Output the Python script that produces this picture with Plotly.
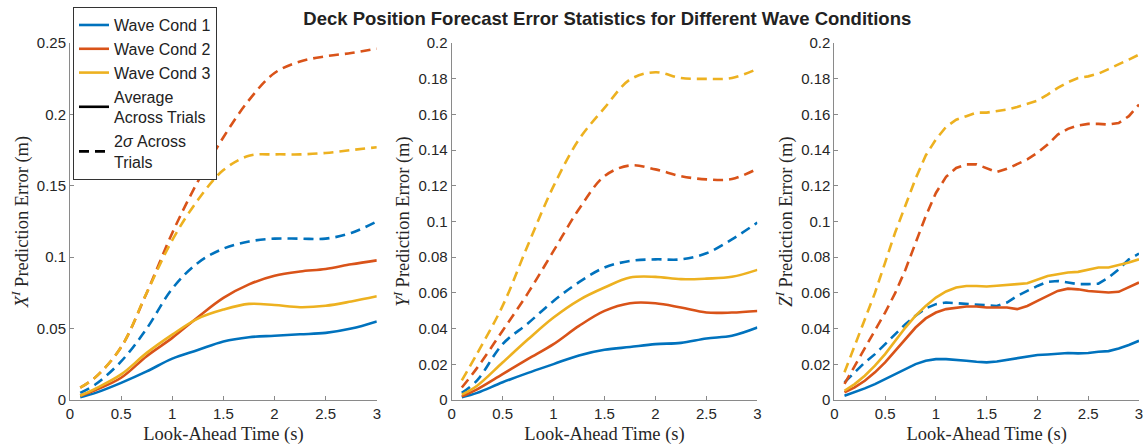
import plotly.graph_objects as go
from plotly.subplots import make_subplots

# ---------------- data ----------------
t_coarse = [0.1, 0.25, 0.5, 0.75, 1.0, 1.25, 1.5, 1.75, 2.0, 2.25, 2.5, 2.75, 3.0]
t_fine = [0.1, 0.2, 0.3, 0.4, 0.5, 0.6, 0.7, 0.8, 0.9, 1.0,
          1.1, 1.2, 1.3, 1.4, 1.5, 1.6, 1.7, 1.8, 1.9, 2.0,
          2.1, 2.2, 2.3, 2.4, 2.5, 2.6, 2.7, 2.8, 2.9, 3.0]

# X^I panel (coarse grid)
x_avg_w1 = [0.002, 0.005, 0.012, 0.020, 0.029, 0.035, 0.041, 0.044, 0.045, 0.046, 0.047, 0.050, 0.055]
x_avg_w2 = [0.003, 0.007, 0.0156, 0.0307, 0.0435, 0.058, 0.0715, 0.081, 0.087, 0.090, 0.0917, 0.095, 0.0978]
x_avg_w3 = [0.003, 0.008, 0.0179, 0.033, 0.0458, 0.057, 0.0633, 0.0673, 0.0665, 0.065, 0.066, 0.069, 0.0726]
x_sig_w1 = [0.005, 0.011, 0.027, 0.050, 0.078, 0.096, 0.106, 0.111, 0.113, 0.113, 0.113, 0.117, 0.125]
x_sig_w2 = [0.0086, 0.016, 0.037, 0.075, 0.117, 0.153, 0.184, 0.210, 0.229, 0.237, 0.2407, 0.243, 0.246]
x_sig_w3 = [0.0086, 0.016, 0.037, 0.075, 0.112, 0.140, 0.161, 0.171, 0.172, 0.172, 0.173, 0.175, 0.177]

# Y^I panel (coarse grid)
y_avg_w1 = [0.0015, 0.004, 0.0099, 0.0152, 0.0201, 0.025, 0.0281, 0.0297, 0.0313, 0.032, 0.0345, 0.036, 0.0406]
y_avg_w2 = [0.002, 0.006, 0.0145, 0.023, 0.0313, 0.0415, 0.0499, 0.0542, 0.0542, 0.0518, 0.049, 0.049, 0.0499]
y_avg_w3 = [0.003, 0.008, 0.021, 0.034, 0.0462, 0.056, 0.063, 0.0686, 0.069, 0.0677, 0.068, 0.069, 0.0729]
y_sig_w1 = [0.004, 0.011, 0.0313, 0.043, 0.0555, 0.066, 0.0742, 0.0779, 0.0788, 0.0788, 0.0822, 0.090, 0.0994]
y_sig_w2 = [0.007, 0.018, 0.0388, 0.060, 0.0835, 0.107, 0.1254, 0.1314, 0.1292, 0.1254, 0.1236, 0.1238, 0.1296]
y_sig_w3 = [0.011, 0.026, 0.0527, 0.087, 0.1198, 0.146, 0.1636, 0.1795, 0.1836, 0.1804, 0.1799, 0.1804, 0.1855]

# Z^I panel (fine grid)
z_avg_w1 = [0.0024, 0.0043, 0.0065, 0.0089, 0.0117, 0.0145, 0.0173, 0.0201, 0.022, 0.0229,
            0.0229, 0.0226, 0.022, 0.0214, 0.0211, 0.0216, 0.0226, 0.0235, 0.0244, 0.0252,
            0.0255, 0.0259, 0.0263, 0.0261, 0.0263, 0.027, 0.0274, 0.0289, 0.0308, 0.0332]
z_avg_w2 = [0.0043, 0.0071, 0.0108, 0.0155, 0.0211, 0.0276, 0.0341, 0.0406, 0.0457, 0.049,
            0.0509, 0.0518, 0.0524, 0.0524, 0.0518, 0.0518, 0.0518, 0.0509, 0.0527, 0.0555,
            0.0583, 0.0611, 0.0624, 0.062, 0.0611, 0.0606, 0.0602, 0.0606, 0.063, 0.0658]
z_avg_w3 = [0.0052, 0.0089, 0.0136, 0.0192, 0.0257, 0.0332, 0.0406, 0.0472, 0.0527, 0.0574,
            0.0608, 0.063, 0.0639, 0.0639, 0.0636, 0.064, 0.0643, 0.0649, 0.0654, 0.0673,
            0.0695, 0.0704, 0.0714, 0.0718, 0.0729, 0.0742, 0.0742, 0.0755, 0.077, 0.0788]
z_sig_w1 = [0.0099, 0.0155, 0.021, 0.0257, 0.0313, 0.0369, 0.0425, 0.0472, 0.0513, 0.0537,
            0.0546, 0.0542, 0.0539, 0.0535, 0.0531, 0.0527, 0.0546, 0.0583, 0.0611, 0.0639,
            0.0662, 0.0667, 0.0658, 0.0649, 0.0649, 0.0652, 0.0686, 0.0732, 0.0788, 0.082]
z_sig_w2 = [0.009, 0.019, 0.0285, 0.039, 0.049, 0.060, 0.073, 0.088, 0.103, 0.116,
            0.125, 0.130, 0.132, 0.132, 0.130, 0.1277, 0.1295, 0.132, 0.1348, 0.1385,
            0.1431, 0.1487, 0.1519, 0.1538, 0.1547, 0.1547, 0.1543, 0.1552, 0.159, 0.1655]
z_sig_w3 = [0.0155, 0.030, 0.045, 0.060, 0.077, 0.094, 0.109, 0.124, 0.137, 0.146,
            0.153, 0.157, 0.159, 0.161, 0.161, 0.1618, 0.1627, 0.1642, 0.166, 0.1677,
            0.1711, 0.1748, 0.178, 0.1804, 0.1813, 0.1828, 0.1854, 0.1879, 0.1907, 0.1935]

series_names = ["Wave Cond 1", "Wave Cond 2", "Wave Cond 3"]
colors = ["#0072BD", "#D95319", "#EDB120"]
y_titles = ["<i>X</i><sup><i>I</i></sup> Prediction Error (m)",
            "<i>Y</i><sup><i>I</i></sup> Prediction Error (m)",
            "<i>Z</i><sup><i>I</i></sup> Prediction Error (m)"]
x_title = "Look-Ahead Time (s)"
title = "<b>Deck Position Forecast Error Statistics for Different Wave Conditions</b>"

panels = [
    (t_coarse, [x_avg_w1, x_avg_w2, x_avg_w3], [x_sig_w1, x_sig_w2, x_sig_w3], "spline"),
    (t_coarse, [y_avg_w1, y_avg_w2, y_avg_w3], [y_sig_w1, y_sig_w2, y_sig_w3], "spline"),
    (t_fine, [z_avg_w1, z_avg_w2, z_avg_w3], [z_sig_w1, z_sig_w2, z_sig_w3], "linear"),
]
y_ranges = [[0, 0.25], [0, 0.2], [0, 0.2]]
y_dticks = [0.05, 0.02, 0.02]

# ---------------- figure ----------------
fig = make_subplots(rows=1, cols=3)
DASH = "10px,6px"
LW = 2.6

for p, (tt, avgs, sigs, shape) in enumerate(panels):
    col = p + 1
    for i in range(3):
        fig.add_trace(go.Scatter(x=tt, y=sigs[i], mode="lines", line_shape=shape,
                                 line=dict(color=colors[i], width=LW, dash=DASH),
                                 showlegend=False, hoverinfo="skip"), row=1, col=col)
    for i in range(3):
        fig.add_trace(go.Scatter(x=tt, y=avgs[i], mode="lines", line_shape=shape,
                                 line=dict(color=colors[i], width=LW),
                                 name=series_names[i], showlegend=(p == 0),
                                 hoverinfo="skip"), row=1, col=col)

# legend-only entries for line styles
fig.add_trace(go.Scatter(x=[None], y=[None], mode="lines",
                         line=dict(color="black", width=LW),
                         name="Average<br>Across Trials"), row=1, col=1)
fig.add_trace(go.Scatter(x=[None], y=[None], mode="lines",
                         line=dict(color="black", width=LW, dash=DASH),
                         name="2<i>σ</i> Across<br>Trials"), row=1, col=1)

domains = [[0.0, 0.287], [0.357, 0.643], [0.715, 1.0]]
axis_color = "#8a8a8a"
tick_font = dict(family="Liberation Sans, Arial, sans-serif", size=15, color="#262626")
title_font = dict(family="Liberation Serif, Times New Roman, serif", size=18.5, color="#262626")

for p in range(3):
    xa = "xaxis" if p == 0 else f"xaxis{p+1}"
    ya = "yaxis" if p == 0 else f"yaxis{p+1}"
    fig.layout[xa].update(domain=domains[p], range=[0, 3], dtick=0.5, tick0=0,
                          showline=True, linecolor=axis_color, linewidth=1,
                          ticks="inside", ticklen=4, tickcolor=axis_color,
                          showgrid=False, zeroline=False, tickfont=tick_font,
                          title=dict(text=x_title, font=title_font, standoff=6))
    fig.layout[ya].update(range=y_ranges[p], dtick=y_dticks[p], tick0=0,
                          showline=True, linecolor=axis_color, linewidth=1,
                          ticks="inside", ticklen=4, tickcolor=axis_color,
                          showgrid=False, zeroline=False, tickfont=tick_font,
                          title=dict(text=y_titles[p], font=title_font, standoff=3))

fig.update_layout(
    width=1148, height=446,
    margin=dict(l=70, r=5, t=43, b=45),
    paper_bgcolor="white", plot_bgcolor="white",
    title=dict(text=title, x=0.529, xanchor="center", y=0.958, yanchor="middle",
               xref="container", yref="container",
               font=dict(family="Liberation Sans, Arial, sans-serif", size=18.5, color="#222222")),
    legend=dict(x=0.0028, y=1.1006, xanchor="left", yanchor="top",
                bgcolor="white", bordercolor="#333333", borderwidth=1,
                font=dict(family="Liberation Sans, Arial, sans-serif", size=16, color="#222222"),
                tracegroupgap=0, itemwidth=30),
    showlegend=True,
)

fig.write_html("out.html", config={"displayModeBar": False},
               post_script="document.body.style.margin='0';document.body.style.padding='0';")
